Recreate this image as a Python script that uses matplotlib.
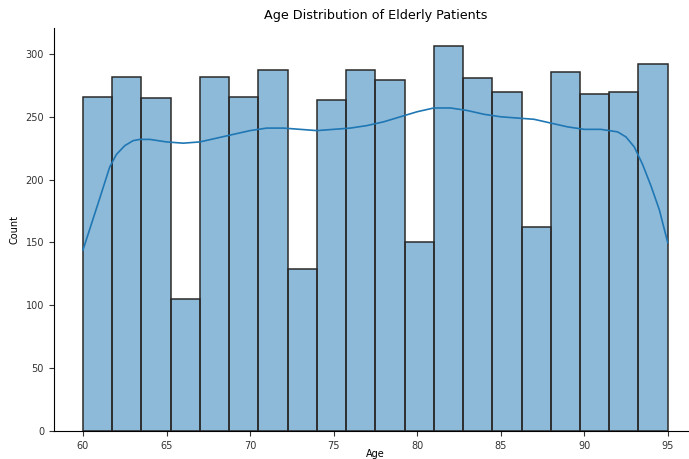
import matplotlib.pyplot as plt
import numpy as np

# Histogram of patient ages, 20 bins between 60 and 95
age_min, age_max = 60, 95
bin_counts = [266, 282, 265, 105, 282, 266, 287, 129, 263, 287,
              279, 150, 306, 281, 270, 162, 286, 268, 270, 292]

# Smoothed density curve (scaled to counts)
kde_age = [60, 61, 61.6, 62, 62.5, 63, 63.4, 64, 65, 66, 67, 68, 69, 70, 71,
           72, 73, 74, 75, 76, 77, 78, 79, 80, 81, 81.5, 82, 83, 84, 85,
           86, 87, 88, 89, 90, 91, 92, 92.5, 93, 93.5, 94, 94.5, 95]
kde_count = [144, 185, 210, 220, 227, 231, 232, 232, 230, 229, 230, 233, 236, 239, 241,
             241, 240, 239, 240, 241, 243, 246, 250, 254, 257, 257, 257, 255, 252, 250,
             249, 248, 245, 242, 240, 240, 238, 234, 226, 212, 195, 176, 150]

edges = np.linspace(age_min, age_max, len(bin_counts) + 1)

plt.rcParams.update({
    "font.family": "DejaVu Sans",
    "font.size": 7,
    "axes.linewidth": 0.8,
})

fig = plt.figure(figsize=(6.89, 4.59), dpi=100)
ax = fig.add_axes([0.078, 0.061, 0.9335, 0.879])

ax.bar(edges[:-1], bin_counts, width=np.diff(edges), align="edge",
       color="#1f77b4", alpha=0.5, edgecolor="none")
ax.bar(edges[:-1], bin_counts, width=np.diff(edges), align="edge",
       fill=False, edgecolor="#2a2a2a", linewidth=1.1)
ax.plot(kde_age, kde_count, color="#1f77b4", linewidth=1.2)

ax.set_xlim(58.25, 96.75)
ax.set_ylim(0, 321)
ax.set_xticks([60, 65, 70, 75, 80, 85, 90, 95])
ax.set_yticks([0, 50, 100, 150, 200, 250, 300])
ax.tick_params(labelsize=7, length=3.5, width=0.8, colors="#333333")
ax.spines["top"].set_visible(False)
ax.spines["right"].set_visible(False)

ax.set_title("Age Distribution of Elderly Patients", fontsize=9.2)
ax.set_xlabel("Age", fontsize=7, labelpad=-1.5)
ax.set_ylabel("Count", fontsize=7)

fig.savefig("out.png", dpi=100)
